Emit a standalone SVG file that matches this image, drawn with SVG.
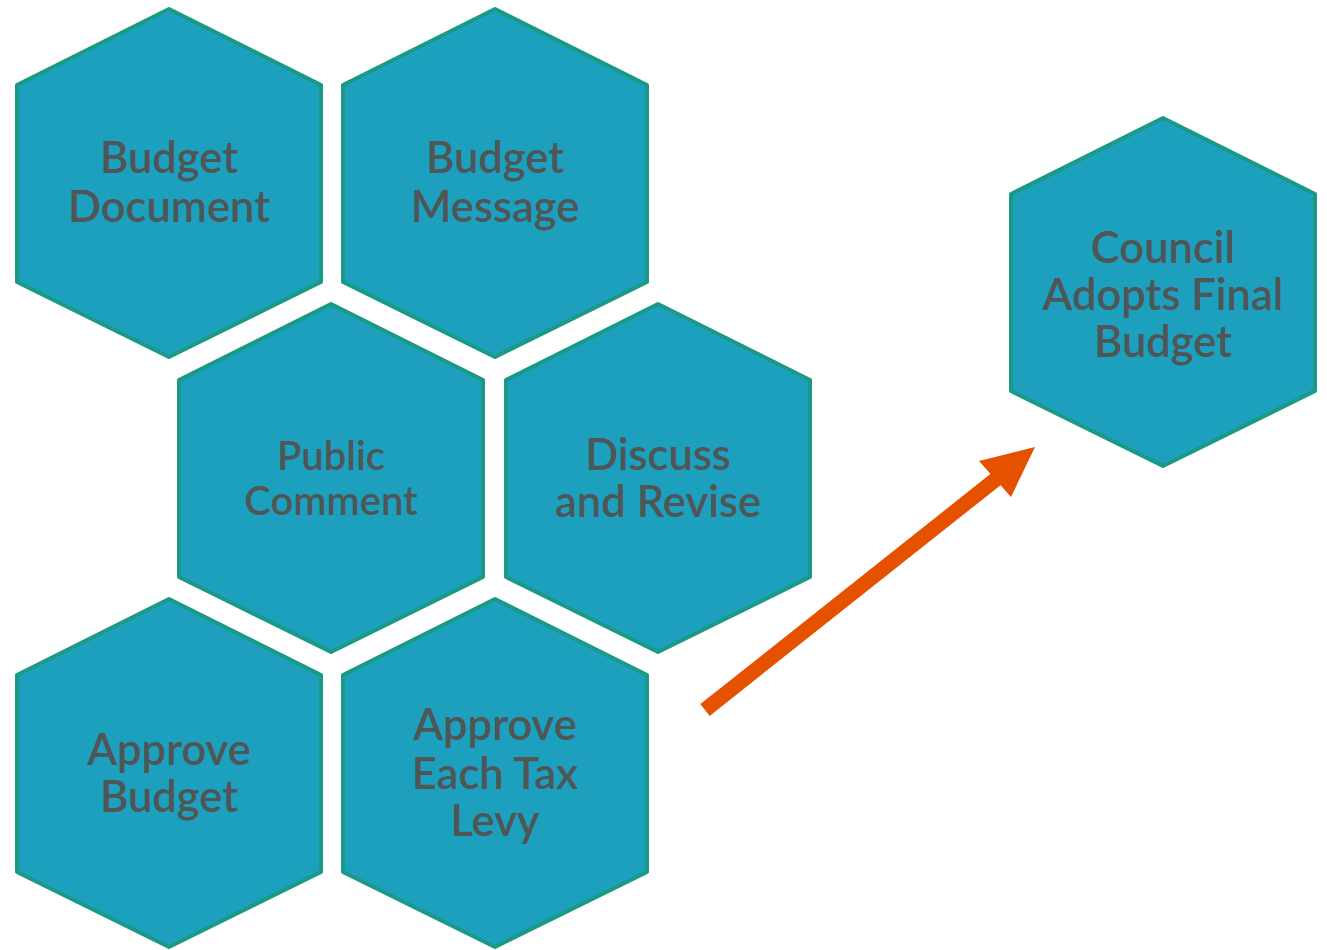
<svg xmlns="http://www.w3.org/2000/svg" width="1327" height="950" viewBox="0 0 1327 950">
<defs>
<style>
.hex{fill:#1CA0BE;stroke:#1A9A84;stroke-width:4;stroke-linejoin:round}
.t{font-family:Lato,"Liberation Sans",sans-serif;font-size:43.5px;font-weight:600;fill:#505555;text-anchor:middle}
.s{font-size:40px}
</style>
<path id="h" d="M0,-174 L152,-98 L152,99 L0,174 L-152,99 L-152,-98 Z"/>
</defs>
<rect width="1327" height="950" fill="#fff"/>
<g id="budget-document" transform="translate(169,183)"><use href="#h" class="hex"/><text class="t"><tspan x="0" y="-10">Budget</tspan><tspan x="0" y="39">Document</tspan></text></g>
<g id="budget-message" transform="translate(495,183)"><use href="#h" class="hex"/><text class="t"><tspan x="0" y="-10">Budget</tspan><tspan x="0" y="39">Message</tspan></text></g>
<g id="public-comment" transform="translate(331,478)"><use href="#h" class="hex"/><text class="t s"><tspan x="0" y="-8">Public</tspan><tspan x="0" y="37">Comment</tspan></text></g>
<g id="discuss-revise" transform="translate(658,478)"><use href="#h" class="hex"/><text class="t"><tspan x="0" y="-8">Discuss</tspan><tspan x="0" y="39">and Revise</tspan></text></g>
<g id="approve-budget" transform="translate(169,773)"><use href="#h" class="hex"/><text class="t"><tspan x="0" y="-8">Approve</tspan><tspan x="0" y="39">Budget</tspan></text></g>
<g id="approve-levy" transform="translate(495,773)"><use href="#h" class="hex"/><text class="t"><tspan x="0" y="-33">Approve</tspan><tspan x="0" y="16">Each Tax</tspan><tspan x="0" y="63">Levy</tspan></text></g>
<g id="council-adopts" transform="translate(1163,292)"><use href="#h" class="hex"/><text class="t"><tspan x="0" y="-29">Council</tspan><tspan x="0" y="18">Adopts Final</tspan><tspan x="0" y="65">Budget</tspan></text></g>
<g id="connectors">
<line x1="705" y1="710" x2="1000" y2="476" stroke="#E65100" stroke-width="15"/>
<polygon points="1035,447 979,461 1011,497" fill="#E65100"/>
</g>
</svg>
